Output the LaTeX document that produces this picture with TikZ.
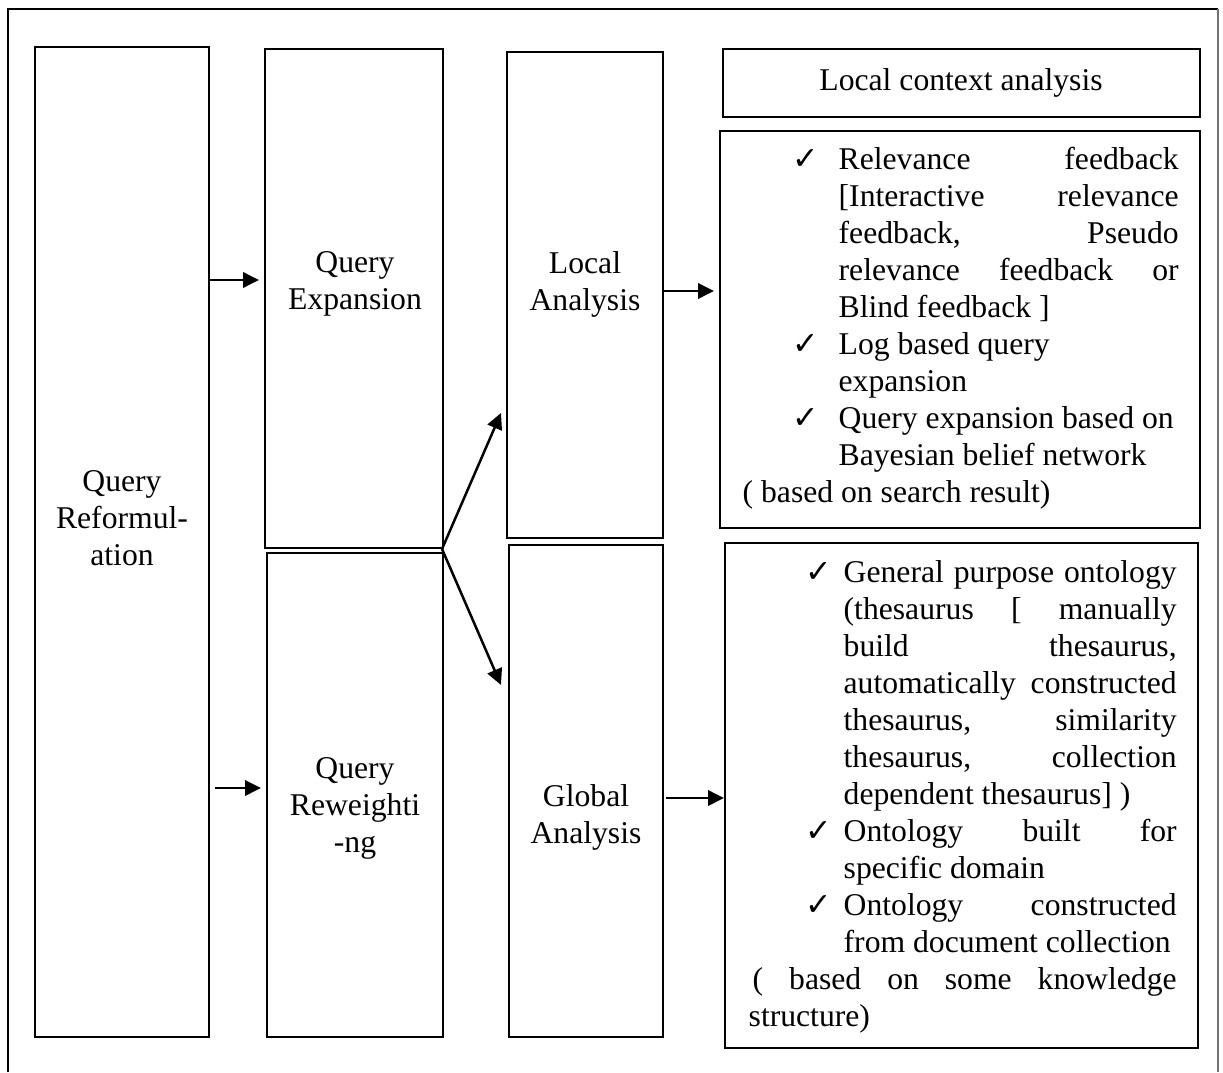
\documentclass[tikz,border=0pt]{standalone}
\usepackage{fontspec}
\setmainfont{Liberation Serif}
\newfontfamily\tickfont{DejaVu Sans}
\usepackage{tikz}
\usetikzlibrary{arrows.meta,fit,calc}
\newcommand{\tick}[1][13.8pt]{\llap{\makebox[#1][l]{\tickfont ✓}}}
\newcommand{\jline}[3]{\hbox{\kern#1\relax\makebox[#2][s]{#3}}}
\newcommand{\fline}[2]{\hbox{\kern#1\relax #2}}

\begin{document}
\begin{tikzpicture}[x=0.3pt,y=-0.3pt,
  box/.style={draw,line width=0.6pt,inner sep=0pt},
  lbl/.style={font=\fontsize{9.5}{11.1}\selectfont,align=center,inner sep=0pt},
  txt/.style={font=\fontsize{9.5}{11.1}\selectfont,align=left,inner sep=0pt},
  arr/.style={-{Triangle[length=4.8pt,width=4.6pt]},line width=0.75pt}]
\useasboundingbox (0,0) rectangle (1223,1072);
% frame, open at the bottom
\draw[line width=0.6pt] (8,1072) -- (8,9) -- (1218,9);
\draw[line width=0.4pt,black!55] (1218,9) -- (1218,1072);

\node[box,fit={(35,47)(209,1037)}] (reform) {};
\node[box,fit={(265,49)(443,548)}] (expand) {};
\node[box,fit={(267,553)(443,1037)}] (reweigh) {};
\node[box,fit={(507,52)(663,538)}] (local) {};
\node[box,fit={(509,545)(663,1037)}] (global) {};
\node[box,fit={(723,49)(1200,117)}] (lca) {};
\node[box,fit={(720,131)(1200,528)}] (relbox) {};
\node[box,fit={(725,543)(1198,1048)}] (glbox) {};

\node[lbl] (lcatxt) at (961,83) {Local context analysis};
\node[lbl] (reformtxt) at (122,518) {Query\\Reformul-\\ation};
\node[lbl] (expandtxt) at (355,284) {Query\\Expansion};
\node[lbl] (localtxt) at (585,284) {Local\\Analysis};
\node[lbl] (reweightxt) at (355,808) {Query\\Reweighti\\-ng};
\node[lbl] (globaltxt) at (586,817) {Global\\Analysis};

\node[txt,anchor=west] (reltxt) at (742,328) {
\jline{28.8pt}{102pt}{\tick Relevance feedback}\\
\jline{28.8pt}{102pt}{[Interactive relevance}\\
\jline{28.8pt}{102pt}{feedback, Pseudo}\\
\jline{28.8pt}{102pt}{relevance feedback or}\\
\fline{28.8pt}{Blind feedback ]}\\
\fline{28.8pt}{\tick Log based query}\\
\fline{28.8pt}{expansion}\\
\fline{28.8pt}{\tick Query expansion based on}\\
\fline{28.8pt}{Bayesian belief network}\\
\fline{0pt}{( based on search result)}};

\node[txt,anchor=west] (gltxt) at (748,797) {
\jline{28.5pt}{99.9pt}{\tick[11.4pt]General purpose ontology}\\
\jline{28.5pt}{99.9pt}{(thesaurus [ manually}\\
\jline{28.5pt}{99.9pt}{build thesaurus,}\\
\jline{28.5pt}{99.9pt}{automatically constructed}\\
\jline{28.5pt}{99.9pt}{thesaurus, similarity}\\
\jline{28.5pt}{99.9pt}{thesaurus, collection}\\
\fline{28.5pt}{dependent thesaurus] )}\\
\jline{28.5pt}{99.9pt}{\tick[11.4pt]Ontology built for}\\
\fline{28.5pt}{specific domain}\\
\jline{28.5pt}{99.9pt}{\tick[11.4pt]Ontology constructed}\\
\fline{28.5pt}{from document collection}\\
\jline{1.2pt}{127.2pt}{( based on some knowledge}\\
\fline{0pt}{structure)}};

\coordinate (a1) at (209,280);
\coordinate (a2) at (215,788);
\coordinate (a3) at (662,291);
\coordinate (a4) at (666,798);
\coordinate (fork) at (442,549);
\coordinate (tipL) at (501,413);
\coordinate (tipG) at (501,685);
\draw[arr,shorten >=1.5pt] (a1) -- (a1 -| expand.west);
\draw[arr,shorten >=1.5pt] (a2) -- (a2 -| reweigh.west);
\draw[arr,shorten >=1.5pt] (a3) -- (a3 -| relbox.west);
\draw[arr] (a4) -- (a4 -| glbox.west);
\draw[arr] (fork) -- (tipL);
\draw[arr] (fork) -- (tipG);
\end{tikzpicture}
\end{document}
